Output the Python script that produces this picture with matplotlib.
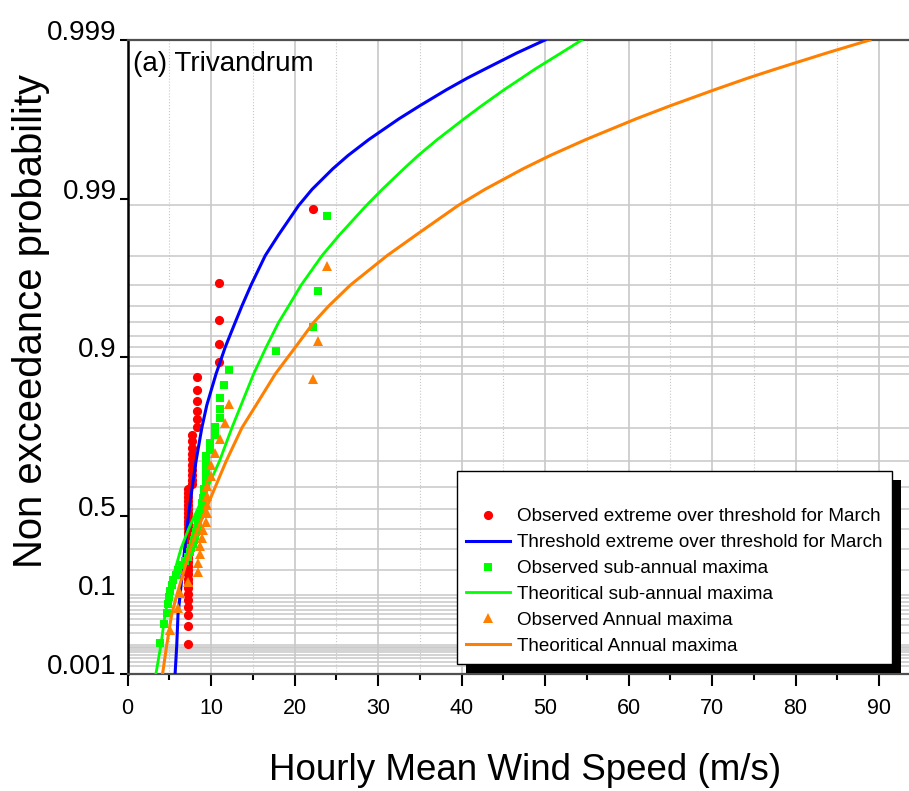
import matplotlib
matplotlib.use("Agg")
import matplotlib.pyplot as plt
import numpy as np
from matplotlib.patches import Rectangle
from matplotlib.transforms import IdentityTransform

plt.rcParams["font.family"] = ["Liberation Sans", "DejaVu Sans"]

march_over_threshold = [
    7.2, 7.2, 7.2, 7.2, 7.2, 7.2, 7.2, 7.2, 7.2, 7.2, 7.2, 7.2, 7.2, 7.2, 7.2, 7.2,
    7.2, 7.2, 7.2, 7.2, 7.2, 7.2, 7.2, 7.2, 7.2, 7.2, 7.2, 7.2, 7.2, 7.2, 7.2, 7.2,
    7.7, 7.7, 7.7, 7.7, 7.7, 7.7, 7.7, 7.7, 7.7, 7.7,
    8.3, 8.3, 8.3, 8.3, 8.3, 8.3,
    11.0, 11.0, 11.0, 11.0, 22.2,
]
sub_annual_maxima = [
    3.9, 4.4, 4.7, 4.9, 5.0, 5.1, 5.3, 5.5, 5.8, 6.1, 6.5, 6.9, 7.2, 7.5, 7.6, 7.8,
    8.0, 8.1, 8.2, 8.3, 8.4, 8.5, 8.7, 8.8, 8.9, 8.9, 9.0, 9.2, 9.2, 9.4, 9.4, 9.4,
    9.4, 9.4, 9.4, 9.9, 9.9, 10.5, 10.5, 11.1, 11.1, 11.1, 11.6, 12.2, 17.8, 22.2,
    22.8, 23.9,
]
annual_maxima = [
    5.1, 6.1, 6.3, 7.3, 8.4, 8.4, 8.7, 8.7, 8.9, 9.1, 9.4, 9.5, 9.5, 9.5, 9.5, 10.0,
    10.0, 10.5, 11.1, 11.7, 12.2, 22.2, 22.8, 23.9,
]

# fitted curves: wind speed at these probabilities
curve_prob = [0.001, 0.01, 0.05, 0.1, 0.2, 0.3, 0.4, 0.5, 0.6, 0.7, 0.8, 0.85, 0.9,
              0.93, 0.95, 0.96, 0.97, 0.98, 0.985, 0.99, 0.992, 0.994, 0.995, 0.996,
              0.997, 0.9975, 0.998, 0.9983, 0.9985, 0.9988, 0.999]
curve_march = [5.7, 5.9, 6.05, 6.3, 6.6, 6.85, 7.1, 7.4, 7.75, 8.2, 8.9, 9.5, 10.6,
               11.7, 12.9, 13.7, 14.8, 16.5, 18.1, 20.5, 22.1, 24.6, 26.4, 28.9,
               32.5, 35.0, 38.2, 40.7, 42.8, 46.6, 50.0]
curve_sub_annual = [3.4, 4.0, 4.5, 5.0, 5.7, 6.4, 7.3, 8.4, 9.6, 11.0, 12.5, 13.6, 15.1,
                    16.6, 18.1, 19.3, 20.8, 23.3, 25.4, 28.6, 30.5, 33.1, 34.8, 37.1,
                    40.3, 42.4, 45.1, 47.2, 48.8, 51.9, 54.4]
curve_annual = [4.2, 4.7, 5.3, 5.9, 6.8, 7.5, 8.4, 9.4, 10.5, 11.8, 13.7, 15.4, 17.7,
                20.1, 22.3, 24.1, 26.7, 31.1, 34.6, 39.6, 42.8, 47.4, 50.6, 54.9,
                60.9, 65.0, 70.3, 74.3, 77.6, 83.7, 88.9]

prob_labels = ["0.001", "0.5", "0.9", "0.99", "0.999"]
labels = [
    "Observed extreme over threshold for March",
    "Threshold extreme over threshold for March",
    "Observed sub-annual maxima",
    "Theoritical sub-annual maxima",
    "Observed Annual maxima",
    "Theoritical Annual maxima",
]


def gumbel(p):
    p = np.clip(np.asarray(p, dtype=float), 1e-12, 1 - 1e-12)
    return -np.log(-np.log(p))


def gumbel_inv(g):
    return np.exp(-np.exp(-np.asarray(g, dtype=float)))


def plotting_position(values):
    # Gringorten plotting position of the ranked sample
    n = len(values)
    rank = np.arange(1, n + 1)
    return (rank - 0.44) / (n + 0.12)


fig = plt.figure(figsize=(9.09, 7.91), dpi=100)
ax = fig.add_axes([127.5 / 909, 117 / 791, 94 * 8.35 / 909, 634 / 791])
ax.set_yscale("function", functions=(gumbel, gumbel_inv))

grid_prob = np.r_[np.arange(1, 10) * 0.001, np.arange(1, 10) * 0.01,
                  np.arange(1, 10) * 0.1, 0.9 + np.arange(1, 10) * 0.01]
for p in grid_prob:
    ax.axhline(p, color="#c8c8c8", lw=1.1, zorder=0.5)

ax.plot(np.sort(march_over_threshold), plotting_position(march_over_threshold), "o",
        color="#ff0000", ms=6.6, mew=0, zorder=3, label=labels[0])
ax.plot(curve_march, curve_prob, "-", color="#0000ff", lw=2.2, zorder=3.1, label=labels[1])
ax.plot(np.sort(sub_annual_maxima), plotting_position(sub_annual_maxima), "s",
        color="#00ff00", ms=5.8, mew=0, zorder=3.2, label=labels[2])
ax.plot(curve_sub_annual, curve_prob, "-", color="#00ff00", lw=2.0, zorder=3.3, label=labels[3])
ax.plot(np.sort(annual_maxima), plotting_position(annual_maxima), "^",
        color="#ff8000", ms=7.8, mew=0, zorder=3.4, label=labels[4])
ax.plot(curve_annual, curve_prob, "-", color="#ff8000", lw=2.2, zorder=3.5, label=labels[5])

ax.set_xlim(0, 94)
ax.set_ylim(0.001, 0.999)

ax.set_xticks(np.arange(0, 91, 10))
ax.set_xticks(np.arange(5, 91, 10), minor=True)
ax.grid(which="major", axis="x", color="#c8c8c8", lw=1.2, zorder=0.5)
ax.grid(which="minor", axis="x", color="#c8c8c8", lw=0.8, ls=":", zorder=0.5)
ax.tick_params(axis="x", which="major", length=8.6, width=1.5, pad=8.6, labelsize=15.5)
ax.tick_params(axis="x", which="minor", length=4.3, width=1.5)

tick_pos = gumbel_inv(np.linspace(gumbel(0.001), gumbel(0.999), len(prob_labels)))
ax.set_yticks(tick_pos, prob_labels)
ax.set_yticks([0.1], ["0.1"], minor=True)
ax.tick_params(axis="y", which="major", length=5.8, width=1.5, pad=1.8, labelsize=20)
ax.tick_params(axis="y", which="minor", length=0, pad=7.6, labelsize=20)
for lab in ax.get_yticklabels(which="both"):
    lab.set_va("baseline")

for side in ("top", "bottom"):
    ax.spines[side].set_color("#505050")
    ax.spines[side].set_linewidth(1.6)
ax.spines["left"].set_color("black")
ax.spines["left"].set_linewidth(1.8)
ax.spines["right"].set_visible(False)

ax.set_xlabel("Hourly Mean Wind Speed (m/s)", fontsize=26.5)
ax.xaxis.set_label_coords(0.5064, -0.1246)
ax.set_ylabel("Non exceedance probability", fontsize=28.8)
ax.yaxis.set_label_coords(-0.0987, 0.556)

ax.text(0.007, 0.951, "(a) Trivandrum", transform=ax.transAxes, fontsize=20, va="baseline")

leg = ax.legend(loc="upper left", bbox_to_anchor=((457 - 127.5) / 784.9, (674 - 471) / 634),
                borderaxespad=0, fontsize=13.6, title=" ", title_fontsize=15,
                handlelength=2.3, handletextpad=0.4, labelspacing=0.46, borderpad=0.5,
                fancybox=False, framealpha=1, edgecolor="black")
leg.get_frame().set_linewidth(1.0)

fig.canvas.draw()
bb = leg.get_window_extent()
shadow = Rectangle((bb.x0 + 9, bb.y0 - 9), bb.width, bb.height, transform=IdentityTransform(),
                   facecolor="black", edgecolor="none", zorder=leg.get_zorder() - 0.1)
ax.add_patch(shadow)

fig.savefig("out.png", dpi=100)
